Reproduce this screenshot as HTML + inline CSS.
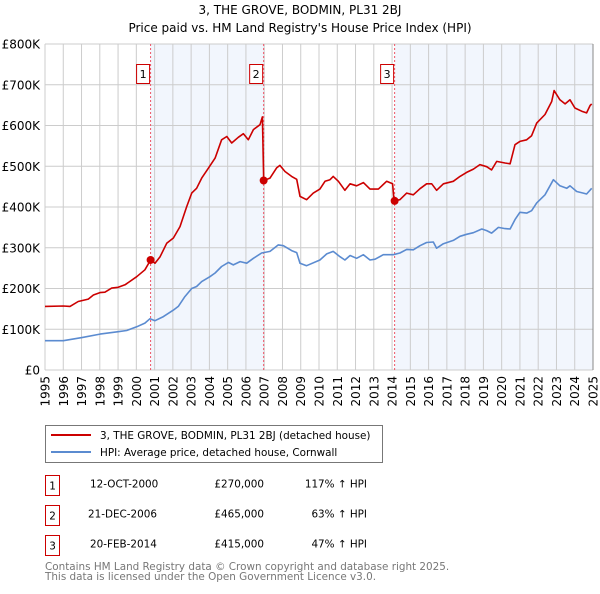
<!DOCTYPE html>
<html><head><meta charset="utf-8"><style>
body{margin:0;background:#fff;font-family:"DejaVu Sans","Liberation Sans",sans-serif;}
svg text{font-family:"DejaVu Sans","Liberation Sans",sans-serif;}
</style></head><body>
<svg id="chart" width="600" height="590" xmlns="http://www.w3.org/2000/svg">
<text x="300" y="14" text-anchor="middle" font-size="12">3, THE GROVE, BODMIN, PL31 2BJ</text>
<text x="300" y="32" text-anchor="middle" font-size="12">Price paid vs. HM Land Registry's House Price Index (HPI)</text>
<g id="plot"></g>
<g>
<rect x="45.5" y="425.5" width="337" height="37" fill="#fff" stroke="#777"/>
<line x1="51" y1="435" x2="91" y2="435" stroke="#cc0000" stroke-width="2"/>
<text x="100" y="439" font-size="10.4">3, THE GROVE, BODMIN, PL31 2BJ (detached house)</text>
<line x1="51" y1="452" x2="91" y2="452" stroke="#5b8bd0" stroke-width="2"/>
<text x="100" y="456" font-size="10.4">HPI: Average price, detached house, Cornwall</text>
</g>
<g font-size="10.4">
<rect x="45.5" y="475.5" width="14" height="20" fill="#fff" stroke="#cc0000"/><text x="52.5" y="489.5" text-anchor="middle">1</text>
<text x="90" y="487.5">12-OCT-2000</text><text x="264" y="487.5" text-anchor="end">£270,000</text><text x="367" y="487.5" text-anchor="end">117% ↑ HPI</text>
<rect x="45.5" y="505.5" width="14" height="20" fill="#fff" stroke="#cc0000"/><text x="52.5" y="519.5" text-anchor="middle">2</text>
<text x="88" y="517.5">21-DEC-2006</text><text x="264" y="517.5" text-anchor="end">£465,000</text><text x="367" y="517.5" text-anchor="end">63% ↑ HPI</text>
<rect x="45.5" y="535.5" width="14" height="20" fill="#fff" stroke="#cc0000"/><text x="52.5" y="549.5" text-anchor="middle">3</text>
<text x="90" y="547.5">20-FEB-2014</text><text x="264" y="547.5" text-anchor="end">£415,000</text><text x="367" y="547.5" text-anchor="end">47% ↑ HPI</text>
</g>
<text x="45" y="570" font-size="10.4" fill="#777">Contains HM Land Registry data © Crown copyright and database right 2025.</text>
<text x="45" y="580" font-size="10.4" fill="#777">This data is licensed under the Open Government Licence v3.0.</text>
</svg>
<script>
const hpiYears=[1995,1996,1997.06,1998.01,1999.01,1999.47,2000.02,2000.47,2000.75,2001.02,2001.48,2002.03,2002.3,2002.66,2003.03,2003.3,2003.58,2004.03,2004.31,2004.67,2005.04,2005.31,2005.68,2006.04,2006.41,2006.86,2007.32,2007.77,2008.05,2008.5,2008.78,2008.96,2009.32,2010.05,2010.42,2010.78,2011.15,2011.42,2011.7,2012.06,2012.43,2012.79,2013.07,2013.52,2014.07,2014.43,2014.8,2015.16,2015.53,2015.89,2016.26,2016.44,2016.81,2017.35,2017.72,2018.08,2018.45,2018.91,2019.18,2019.45,2019.82,2020.18,2020.46,2020.73,2021,2021.37,2021.64,2021.92,2022.37,2022.83,2023.19,2023.56,2023.74,2024.11,2024.47,2024.65,2024.93];
const hpiValues=[72,72,80,88,94,97,106,115,126,121,131,147,156,180,200,205,217,229,238,254,264,258,266,262,274,287,291,307,305,293,288,262,256,270,285,291,278,270,281,274,283,270,272,283,283,287,296,295,305,313,314,299,310,318,328,333,337,346,342,336,350,347,346,369,387,385,391,410,430,467,452,446,452,438,434,432,446];
const priceYears=[1995,1996,1996.37,1996.82,1997.37,1997.65,1998.01,1998.28,1998.65,1999.01,1999.38,2000.02,2000.47,2000.78,2001.02,2001.3,2001.66,2002.03,2002.39,2002.76,2003.03,2003.3,2003.58,2003.94,2004.31,2004.67,2004.95,2005.22,2005.58,2005.86,2006.13,2006.41,2006.77,2006.9,2006.97,2007.32,2007.68,2007.86,2008.14,2008.5,2008.78,2008.96,2009.32,2009.69,2010.05,2010.33,2010.6,2010.78,2011.06,2011.42,2011.7,2012.06,2012.43,2012.79,2013.25,2013.7,2014.03,2014.11,2014.43,2014.8,2015.16,2015.53,2015.89,2016.17,2016.44,2016.81,2017.35,2017.72,2018.08,2018.45,2018.81,2019.18,2019.45,2019.73,2020.18,2020.46,2020.73,2021,2021.37,2021.64,2021.92,2022.37,2022.74,2022.87,2023.19,2023.47,2023.74,2024.01,2024.38,2024.65,2024.84,2024.93];
const priceValues=[156,157,156,168,174,184,190,191,201,203,209,229,246,270,262,278,311,324,352,401,434,446,471,495,520,565,573,557,571,580,565,590,602,621,465,471,496,502,487,475,468,426,418,434,444,463,467,475,463,441,457,452,460,444,444,463,457,415,418,434,430,445,457,457,441,457,463,475,485,493,504,499,491,512,508,506,553,561,565,575,606,627,659,686,663,653,663,643,635,631,649,653];
const saleYears=[2000.78,2006.97,2014.14];
const saleValues=[270,465,415];
const saleLabels=["1","2","3"];
const yTicks=[0,100,200,300,400,500,600,700,800];
const yTickLabels=["£0","£100K","£200K","£300K","£400K","£500K","£600K","£700K","£800K"];
const xTicks=[1995,1996,1997,1998,1999,2000,2001,2002,2003,2004,2005,2006,2007,2008,2009,2010,2011,2012,2013,2014,2015,2016,2017,2018,2019,2020,2021,2022,2023,2024,2025];

const L=45,R=593,T=44,B=370;
const xs=y=>L+(y-1995)/(2025-1995)*(R-L);
const ys=v=>B-v/800*(B-T);
const NS="http://www.w3.org/2000/svg";
const plot=document.getElementById('plot');
function mk(tag,attrs,parent){const e=document.createElementNS(NS,tag);for(const k in attrs)e.setAttribute(k,attrs[k]);(parent||plot).appendChild(e);return e;}

let sh=mk('rect',{x:xs(saleYears[0]),y:T,width:xs(saleYears[1])-xs(saleYears[0]),height:B-T,fill:'#eef3fc',opacity:0.75});


let sh2=mk('rect',{x:xs(saleYears[2]),y:T,width:R-xs(saleYears[2]),height:B-T,fill:'#eef3fc',opacity:0.75});



yTicks.forEach((t,i)=>{
  const g=mk('line',{x1:L,x2:R,y1:ys(t),y2:ys(t),stroke:'#cccccc','stroke-width':1});
  
  
  const tx=mk('text',{x:40,y:ys(t)+4.5,'text-anchor':'end','font-size':12});
  tx.textContent=yTickLabels[i];
  
  
});
xTicks.forEach(t=>{
  const g=mk('line',{x1:xs(t),x2:xs(t),y1:T,y2:B,stroke:'#cccccc','stroke-width':1});
  
  
  const tx=mk('text',{x:0,y:0,'text-anchor':'end','font-size':12,transform:`translate(${xs(t)+4.5},376) rotate(-90)`});
  tx.textContent=t;
  
  
});

saleYears.forEach((y,i)=>{
  const l=mk('line',{x1:xs(y),x2:xs(y),y1:T,y2:B,stroke:'#ee5566','stroke-width':1,'stroke-dasharray':'2,2'});
  
  
  const r=mk('rect',{x:xs(y)-14,y:64.5,width:13,height:19,fill:'#fff',stroke:'#cc0000'});
  
  
  const t=mk('text',{x:xs(y)-7.5,y:78,'text-anchor':'middle','font-size':11});
  t.textContent=saleLabels[i];
  
  
});

function line(xa,va,color,name){
  const d=xa.map((x,i)=>(i?'L':'M')+xs(x).toFixed(1)+','+ys(va[i]).toFixed(1)).join('');
  const p=mk('path',{d:d,fill:'none',stroke:color,'stroke-width':1.6,'stroke-linejoin':'round'});
  
  
}
line(hpiYears,hpiValues,'#5b8bd0','hpi-line');
line(priceYears,priceValues,'#cc0000','price-line');
saleYears.forEach((y,i)=>{
  const c=mk('circle',{cx:xs(y),cy:ys(saleValues[i]),r:4,fill:'#cc0000'});
  
  
});
const ax=mk('line',{x1:R,x2:R,y1:T,y2:B,stroke:'#888','stroke-width':1});


</script>
</body></html>
